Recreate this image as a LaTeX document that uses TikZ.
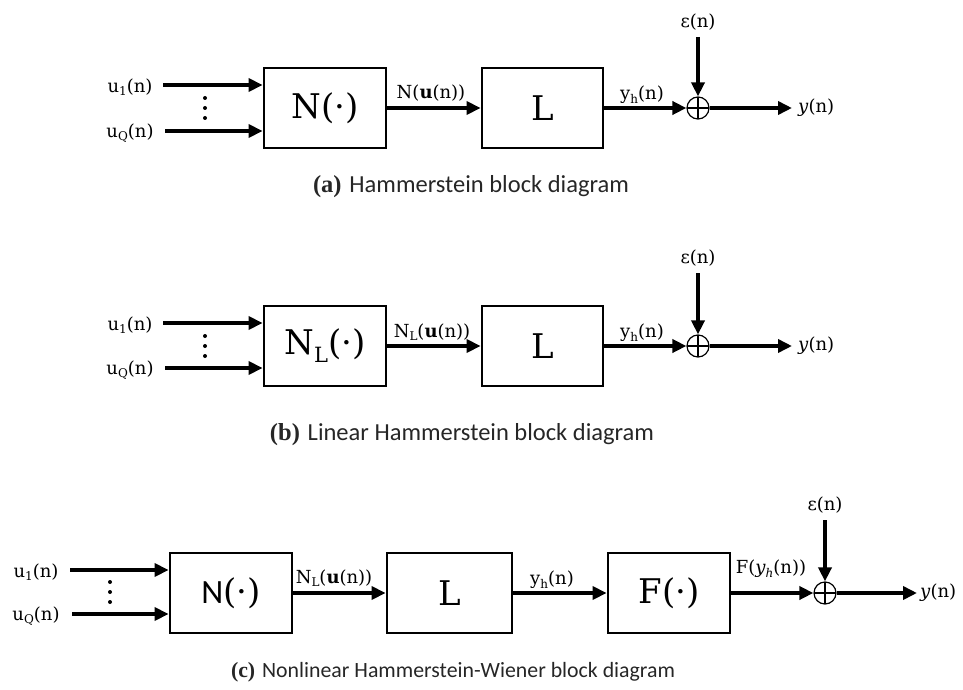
\documentclass[tikz,border=0pt]{standalone}
\usepackage{fontspec}
\setmainfont{DejaVu Serif}
\newfontfamily\capsans{Carlito}
\newfontfamily\captimes{Liberation Serif}
\usetikzlibrary{arrows.meta}
\newcommand{\lsub}[1]{\raisebox{-0.35ex}{\fontsize{12}{12}\selectfont #1}}
\newcommand{\bigsub}[1]{\raisebox{-0.45ex}{\fontsize{21}{21}\selectfont #1}}
\tikzset{
  blk/.style={draw, line width=2.8pt, minimum width=122pt, minimum height=80pt, inner sep=0pt, font=\fontsize{34}{38}\selectfont},
  arr/.style={line width=3.5pt, -{Triangle[length=14pt,width=13pt]}},
  lbl/.style={font=\fontsize{18}{20}\selectfont, inner sep=0pt},
  sumnode/.style={circle, draw, line width=1.2pt, minimum size=22pt, inner sep=0pt,
    path picture={\draw[line width=1.2pt] (path picture bounding box.north) -- (path picture bounding box.south) (path picture bounding box.west) -- (path picture bounding box.east);}},
  captxt/.style={font=\fontsize{24.5}{28}\selectfont, inner sep=0pt, text=black!85},
  captxtc/.style={captxt, font=\fontsize{21.8}{26}\selectfont}
}
\begin{document}
\begin{tikzpicture}[x=1pt,y=-1pt]
\useasboundingbox (0,0) rectangle (963,690);
% ---------------- (a) ----------------
\node[blk] (Na) at (325,108) {N(·)};
\node[blk, minimum width=121pt] (La) at (542.5,108) {L};
\node[sumnode] (Sa) at (698,108) {};
\node[lbl] (ea) at (698,22) {ε(n)};
\coordinate (eat) at (698,37);
\draw[arr] (eat) -- (Sa);
\draw[arr] (Na) -- (La);
\node[lbl] (nua) at (431,93) {N({\bfseries u}(n))};
\draw[arr] (La) -- (Sa);
\node[lbl] (yha) at (642,95) {y\lsub{h}(n)};
\coordinate (oa) at (792,108);
\draw[arr] (Sa) -- (oa);
\node[lbl, anchor=west] (ya) at (798,108) {\textit{y}(n)};
\coordinate (i1a) at (163,85);
\coordinate (iqa) at (165,131);
\draw[arr] (i1a) -- (i1a -| Na.west);
\draw[arr] (iqa) -- (iqa -| Na.west);
\node[lbl] (u1a) at (130,87) {u\lsub{1}(n)};
\node[lbl] (uqa) at (130,133) {u\lsub{Q}(n)};
\fill (205,98) circle (2) (205,108) circle (2) (205,118) circle (2);
\node[captxt] (capa) at (471,187) {{\captimes\bfseries (a)} {\capsans Hammerstein block diagram}};
% ---------------- (b) ----------------
\node[blk] (Nb) at (325,346) {N\bigsub{L}(·)};
\node[blk, minimum width=121pt] (Lb) at (542.5,346) {L};
\node[sumnode] (Sb) at (698,346) {};
\node[lbl] (eb) at (698,258) {ε(n)};
\coordinate (ebt) at (698,273);
\draw[arr] (ebt) -- (Sb);
\draw[arr] (Nb) -- (Lb);
\node[lbl] (nub) at (432,332) {N\lsub{L}({\bfseries u}(n))};
\draw[arr] (Lb) -- (Sb);
\node[lbl] (yhb) at (642,333) {y\lsub{h}(n)};
\coordinate (ob) at (792,346);
\draw[arr] (Sb) -- (ob);
\node[lbl, anchor=west] (yb) at (798,346) {\textit{y}(n)};
\coordinate (i1b) at (163,323);
\coordinate (iqb) at (165,368);
\draw[arr] (i1b) -- (i1b -| Nb.west);
\draw[arr] (iqb) -- (iqb -| Nb.west);
\node[lbl] (u1b) at (130,325) {u\lsub{1}(n)};
\node[lbl] (uqb) at (130,370) {u\lsub{Q}(n)};
\fill (205,336) circle (2) (205,346) circle (2) (205,356) circle (2);
\node[captxt] (capb) at (462,435) {{\captimes\bfseries (b)} {\capsans Linear Hammerstein block diagram}};
% ---------------- (c) ----------------
\node[blk] (Nc) at (231,593) {{\capsans N}(·)};
\node[blk, minimum width=125pt] (Lc) at (449.5,593) {L};
\node[blk] (Fc) at (669,593) {F(·)};
\node[sumnode] (Sc) at (825,593) {};
\node[lbl] (ec) at (825,505) {ε(n)};
\coordinate (ect) at (825,520);
\draw[arr] (ect) -- (Sc);
\draw[arr] (Nc) -- (Lc);
\node[lbl] (nuc) at (334,578) {N\lsub{L}({\bfseries u}(n))};
\draw[arr] (Lc) -- (Fc);
\node[lbl] (yhc) at (552,580) {y\lsub{h}(n)};
\draw[arr] (Fc) -- (Sc);
\node[lbl] (fyc) at (771,569) {F(\textit{y}\lsub{\textit{h}}(n))};
\coordinate (oc) at (917,593);
\draw[arr] (Sc) -- (oc);
\node[lbl, anchor=west] (yc) at (920,593) {\textit{y}(n)};
\coordinate (i1c) at (70,570);
\coordinate (iqc) at (72,614);
\draw[arr] (i1c) -- (i1c -| Nc.west);
\draw[arr] (iqc) -- (iqc -| Nc.west);
\node[lbl] (u1c) at (36,572) {u\lsub{1}(n)};
\node[lbl] (uqc) at (36,616) {u\lsub{Q}(n)};
\fill (110,582) circle (2) (110,592) circle (2) (110,602) circle (2);
\node[captxtc] (capc) at (453,672) {{\captimes\bfseries (c)} {\capsans Nonlinear Hammerstein-Wiener block diagram}};
\end{tikzpicture}
\end{document}
